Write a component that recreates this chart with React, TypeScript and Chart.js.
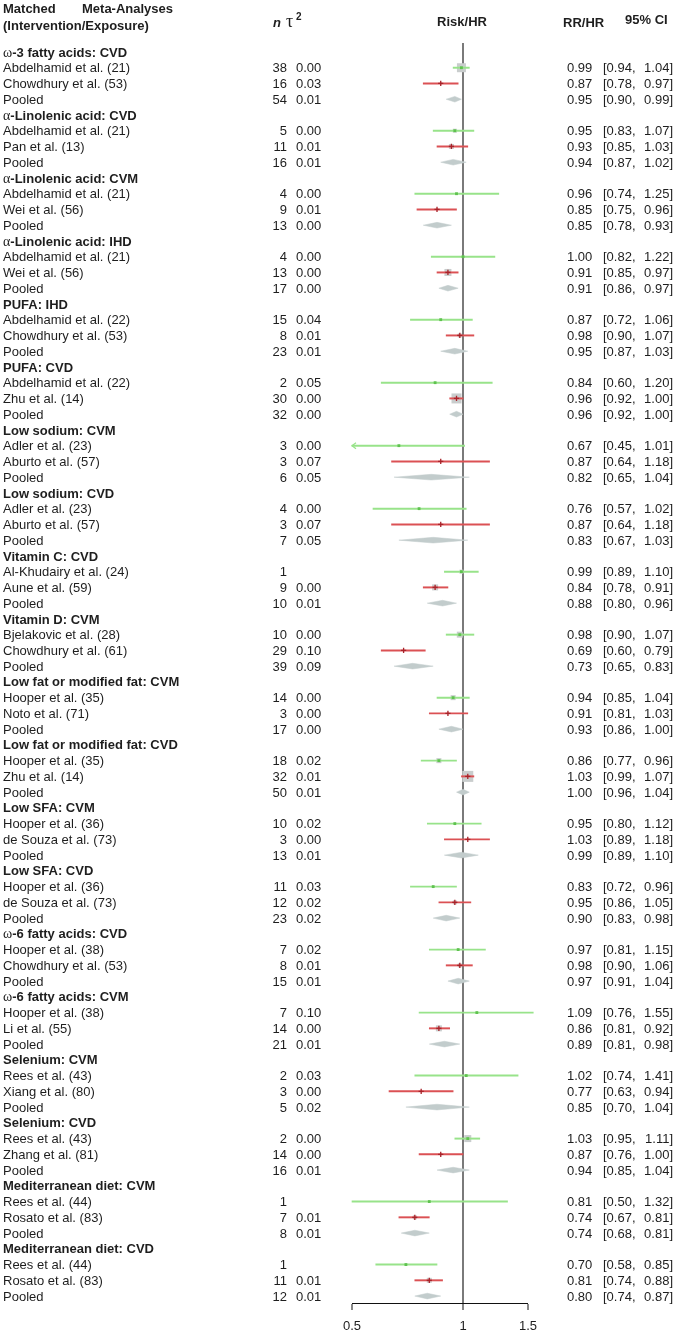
import React, { useEffect, useRef } from 'react';
import { Chart, registerables } from 'chart.js';

Chart.register(...registerables);

// ---------- data ----------
const groupTitles = [
  'ω-3 fatty acids: CVD', 'α-Linolenic acid: CVD', 'α-Linolenic acid: CVM', 'α-Linolenic acid: IHD',
  'PUFA: IHD', 'PUFA: CVD', 'Low sodium: CVM', 'Low sodium: CVD', 'Vitamin C: CVD', 'Vitamin D: CVM',
  'Low fat or modified fat: CVM', 'Low fat or modified fat: CVD', 'Low SFA: CVM', 'Low SFA: CVD',
  'ω-6 fatty acids: CVD', 'ω-6 fatty acids: CVM', 'Selenium: CVM', 'Selenium: CVD',
  'Mediterranean diet: CVM', 'Mediterranean diet: CVD',
];

const rowLabels = [
  'Abdelhamid et al. (21)', 'Chowdhury et al. (53)', 'Pooled',
  'Abdelhamid et al. (21)', 'Pan et al. (13)', 'Pooled',
  'Abdelhamid et al. (21)', 'Wei et al. (56)', 'Pooled',
  'Abdelhamid et al. (21)', 'Wei et al. (56)', 'Pooled',
  'Abdelhamid et al. (22)', 'Chowdhury et al. (53)', 'Pooled',
  'Abdelhamid et al. (22)', 'Zhu et al. (14)', 'Pooled',
  'Adler et al. (23)', 'Aburto et al. (57)', 'Pooled',
  'Adler et al. (23)', 'Aburto et al. (57)', 'Pooled',
  'Al-Khudairy et al. (24)', 'Aune et al. (59)', 'Pooled',
  'Bjelakovic et al. (28)', 'Chowdhury et al. (61)', 'Pooled',
  'Hooper et al. (35)', 'Noto et al. (71)', 'Pooled',
  'Hooper et al. (35)', 'Zhu et al. (14)', 'Pooled',
  'Hooper et al. (36)', 'de Souza et al. (73)', 'Pooled',
  'Hooper et al. (36)', 'de Souza et al. (73)', 'Pooled',
  'Hooper et al. (38)', 'Chowdhury et al. (53)', 'Pooled',
  'Hooper et al. (38)', 'Li et al. (55)', 'Pooled',
  'Rees et al. (43)', 'Xiang et al. (80)', 'Pooled',
  'Rees et al. (43)', 'Zhang et al. (81)', 'Pooled',
  'Rees et al. (44)', 'Rosato et al. (83)', 'Pooled',
  'Rees et al. (44)', 'Rosato et al. (83)', 'Pooled',
];

const nValues = [
  38, 16, 54, 5, 11, 16, 4, 9, 13, 4, 13, 17, 15, 8, 23, 2, 30, 32, 3, 3, 6, 4, 3, 7,
  1, 9, 10, 10, 29, 39, 14, 3, 17, 18, 32, 50, 10, 3, 13, 11, 12, 23, 7, 8, 15, 7, 14, 21,
  2, 3, 5, 2, 14, 16, 1, 7, 8, 1, 11, 12,
];

const tau2Values = [
  '0.00', '0.03', '0.01', '0.00', '0.01', '0.01', '0.00', '0.01', '0.00', '0.00', '0.00', '0.00',
  '0.04', '0.01', '0.01', '0.05', '0.00', '0.00', '0.00', '0.07', '0.05', '0.00', '0.07', '0.05',
  '', '0.00', '0.01', '0.00', '0.10', '0.09', '0.00', '0.00', '0.00', '0.02', '0.01', '0.01',
  '0.02', '0.00', '0.01', '0.03', '0.02', '0.02', '0.02', '0.01', '0.01', '0.10', '0.00', '0.01',
  '0.03', '0.00', '0.02', '0.00', '0.00', '0.01', '', '0.01', '0.01', '', '0.01', '0.01',
];

const rrValues = [
  0.99, 0.87, 0.95, 0.95, 0.93, 0.94, 0.96, 0.85, 0.85, 1.00, 0.91, 0.91, 0.87, 0.98, 0.95,
  0.84, 0.96, 0.96, 0.67, 0.87, 0.82, 0.76, 0.87, 0.83, 0.99, 0.84, 0.88, 0.98, 0.69, 0.73,
  0.94, 0.91, 0.93, 0.86, 1.03, 1.00, 0.95, 1.03, 0.99, 0.83, 0.95, 0.90, 0.97, 0.98, 0.97,
  1.09, 0.86, 0.89, 1.02, 0.77, 0.85, 1.03, 0.87, 0.94, 0.81, 0.74, 0.74, 0.70, 0.81, 0.80,
];

const lowerCI = [
  0.94, 0.78, 0.90, 0.83, 0.85, 0.87, 0.74, 0.75, 0.78, 0.82, 0.85, 0.86, 0.72, 0.90, 0.87,
  0.60, 0.92, 0.92, 0.45, 0.64, 0.65, 0.57, 0.64, 0.67, 0.89, 0.78, 0.80, 0.90, 0.60, 0.65,
  0.85, 0.81, 0.86, 0.77, 0.99, 0.96, 0.80, 0.89, 0.89, 0.72, 0.86, 0.83, 0.81, 0.90, 0.91,
  0.76, 0.81, 0.81, 0.74, 0.63, 0.70, 0.95, 0.76, 0.85, 0.50, 0.67, 0.68, 0.58, 0.74, 0.74,
];

const upperCI = [
  1.04, 0.97, 0.99, 1.07, 1.03, 1.02, 1.25, 0.96, 0.93, 1.22, 0.97, 0.97, 1.06, 1.07, 1.03,
  1.20, 1.00, 1.00, 1.01, 1.18, 1.04, 1.02, 1.18, 1.03, 1.10, 0.91, 0.96, 1.07, 0.79, 0.83,
  1.04, 1.03, 1.00, 0.96, 1.07, 1.04, 1.12, 1.18, 1.10, 0.96, 1.05, 0.98, 1.15, 1.06, 1.04,
  1.55, 0.92, 0.98, 1.41, 0.94, 1.04, 1.11, 1.00, 1.04, 1.32, 0.81, 0.81, 0.85, 0.88, 0.87,
];

// relative study weights (drawn as grey squares), two studies per group
const studyWeights = [
  9, 2, 4, 5, 1, 2, 1, 7, 2, 4, 1, 10, 1, 1, 1, 1, 4, 6, 6, 2,
  5, 2, 5, 11, 1, 1, 2, 4, 2, 4, 1, 6, 1, 1, 7, 2, 1, 4, 1, 5,
];

const xTicks = [0.5, 1, 1.5];

// ---------- styling ----------
const X_MIN = 0.5;
const X_MAX = 1.5;
const ROWS_PER_GROUP = 4;
const Y_MIN = -0.57;
const Y_MAX = groupTitles.length * ROWS_PER_GROUP - 0.56;
const GREEN = '#98e38a';
const GREEN_DOT = '#5fc24f';
const RED = '#db5154';
const RED_DOT = '#a8232a';
const SQUARE = '#c9cdcd';
const DIAMOND = '#c2cccc';
const TEXT = '#1e1e1e';
const SANS = '"Liberation Sans", Arial, sans-serif';
const SERIF = '"Liberation Serif", "Times New Roman", serif';
const DIAMOND_HALF = 0.18;

const rowOf = (i: number) => Math.floor(i / 3) * ROWS_PER_GROUP + 1 + (i % 3);

function drawGreekLabel(ctx: CanvasRenderingContext2D, text: string, x: number, y: number) {
  const first = text.charAt(0);
  let cx = x;
  let rest = text;
  if (first === 'ω' || first === 'α') {
    ctx.font = `14px ${SERIF}`;
    ctx.fillText(first, cx, y);
    cx += ctx.measureText(first).width;
    rest = text.slice(1);
  }
  ctx.font = `bold 13px ${SANS}`;
  ctx.fillText(rest, cx, y);
}

const forestText = {
  id: 'forestText',
  afterDraw(chart: any) {
    const ctx: CanvasRenderingContext2D = chart.ctx;
    const ys = chart.scales.y;
    ctx.save();
    ctx.fillStyle = TEXT;
    ctx.textBaseline = 'alphabetic';

    // column headers
    ctx.font = `bold 13px ${SANS}`;
    ctx.textAlign = 'left';
    ctx.fillText('Matched', 3, 13);
    ctx.fillText('Meta-Analyses', 82, 13);
    ctx.fillText('(Intervention/Exposure)', 3, 30);
    ctx.font = `italic bold 13px ${SANS}`;
    ctx.fillText('n', 273, 27);
    ctx.font = `18px ${SERIF}`;
    ctx.fillText('τ', 286, 27);
    ctx.font = `bold 10px ${SANS}`;
    ctx.fillText('2', 296, 20);
    ctx.font = `bold 13px ${SANS}`;
    ctx.textAlign = 'center';
    ctx.fillText('Risk/HR', 462, 26);
    ctx.textAlign = 'left';
    ctx.fillText('RR/HR', 563, 27);
    ctx.fillText('95% CI', 625, 24);

    // group titles
    groupTitles.forEach((t, g) => {
      const py = ys.getPixelForValue(g * ROWS_PER_GROUP) + 4.6;
      ctx.textAlign = 'left';
      drawGreekLabel(ctx, t, 3, py);
    });

    // rows
    ctx.font = `13px ${SANS}`;
    rowLabels.forEach((lab, i) => {
      const py = ys.getPixelForValue(rowOf(i)) + 4.6;
      ctx.textAlign = 'left';
      ctx.fillText(lab, 3, py);
      ctx.textAlign = 'right';
      ctx.fillText(String(nValues[i]), 287, py);
      ctx.textAlign = 'left';
      if (tau2Values[i]) ctx.fillText(tau2Values[i], 296, py);
      ctx.fillText(rrValues[i].toFixed(2), 567, py);
      ctx.fillText(`[${lowerCI[i].toFixed(2)},`, 603, py);
      ctx.textAlign = 'right';
      ctx.fillText(`${upperCI[i].toFixed(2)}]`, 673, py);
    });
    ctx.restore();
  },
};

const arrowPlugin = {
  id: 'ciArrows',
  afterDatasetsDraw(chart: any) {
    const ctx: CanvasRenderingContext2D = chart.ctx;
    const xs = chart.scales.x;
    const ys = chart.scales.y;
    ctx.save();
    ctx.lineWidth = 1.2;
    rowLabels.forEach((_, i) => {
      if (i % 3 === 2 || lowerCI[i] >= X_MIN) return;
      const px = xs.getPixelForValue(X_MIN);
      const py = ys.getPixelForValue(rowOf(i));
      ctx.strokeStyle = i % 3 === 0 ? GREEN : RED;
      ctx.beginPath();
      ctx.moveTo(px + 4, py - 3);
      ctx.lineTo(px, py);
      ctx.lineTo(px + 4, py + 3);
      ctx.stroke();
    });
    ctx.restore();
  },
};

export default function App() {
  const ref = useRef<HTMLCanvasElement>(null);

  useEffect(() => {
    document.body.style.margin = '0';
    const canvas = ref.current;
    if (!canvas) return;

    const studyIdx = rowLabels.map((_, i) => i).filter((i) => i % 3 !== 2);
    const pooledIdx = rowLabels.map((_, i) => i).filter((i) => i % 3 === 2);

    const barData = studyIdx.map((i) => ({
      x: [Math.max(lowerCI[i], X_MIN), upperCI[i]],
      y: rowOf(i),
      kind: i % 3,
    }));

    const squareData = studyIdx.map((i, j) => ({ x: rrValues[i], y: rowOf(i), w: studyWeights[j] }));
    const greenDots = studyIdx.filter((i) => i % 3 === 0).map((i) => ({ x: rrValues[i], y: rowOf(i) }));
    const redDots = studyIdx.filter((i) => i % 3 === 1).map((i) => ({ x: rrValues[i], y: rowOf(i) }));

    const diamondSets = pooledIdx.map((i) => {
      const r = rowOf(i);
      return {
        type: 'line' as const,
        data: [
          { x: lowerCI[i], y: r },
          { x: rrValues[i], y: r - DIAMOND_HALF },
          { x: upperCI[i], y: r },
          { x: rrValues[i], y: r + DIAMOND_HALF },
          { x: lowerCI[i], y: r },
        ],
        fill: 'shape',
        backgroundColor: DIAMOND,
        borderColor: DIAMOND,
        borderWidth: 0.5,
        pointRadius: 0,
        tension: 0,
        order: 4,
        clip: false,
      };
    });

    const chart = new Chart(canvas, {
      type: 'scatter',
      data: {
        datasets: [
          {
            type: 'bar',
            indexAxis: 'y',
            data: barData as any,
            backgroundColor: (c: any) => (c.raw && c.raw.kind === 0 ? GREEN : RED),
            barThickness: 1.3,
            grouped: false,
            borderWidth: 0,
            clip: false,
            order: 2,
          } as any,
          {
            type: 'scatter',
            data: squareData as any,
            pointStyle: 'rect',
            pointRadius: (c: any) => (c.raw ? c.raw.w / Math.SQRT2 : 0),
            backgroundColor: SQUARE,
            borderWidth: 0,
            order: 3,
            clip: false,
          } as any,
          {
            type: 'scatter',
            data: greenDots,
            pointStyle: 'rect',
            pointRadius: 2,
            backgroundColor: GREEN_DOT,
            borderWidth: 0,
            order: 0,
          } as any,
          {
            type: 'scatter',
            data: redDots,
            pointStyle: 'cross',
            pointRadius: 2.6,
            borderColor: RED_DOT,
            borderWidth: 1.3,
            order: 0,
          } as any,
          ...(diamondSets as any[]),
        ],
      },
      options: {
        animation: false,
        responsive: false,
        events: [],
        layout: { padding: { left: 352, right: 150, top: 43, bottom: 0 } },
        plugins: { legend: { display: false }, tooltip: { enabled: false } },
        scales: {
          x: {
            type: 'logarithmic',
            min: X_MIN,
            max: X_MAX,
            position: 'bottom',
            offset: false,
            afterBuildTicks: (s: any) => {
              s.ticks = xTicks.map((v) => ({ value: v }));
            },
            afterFit: (s: any) => {
              s.height = 30;
            },
            ticks: {
              autoSkip: false,
              maxRotation: 0,
              padding: 9,
              color: TEXT,
              font: { family: SANS, size: 13 },
              callback: (v: any) => String(v),
            },
            grid: {
              offset: false,
              drawOnChartArea: true,
              drawTicks: true,
              tickLength: 7,
              tickColor: '#111',
              tickWidth: 1,
              color: (c: any) => (c.tick && c.tick.value === 1 ? '#7a7a7a' : 'rgba(0,0,0,0)'),
              lineWidth: (c: any) => (c.tick && c.tick.value === 1 ? 2 : 0),
            },
            border: { display: true, color: '#111', width: 1 },
          },
          y: {
            type: 'linear',
            reverse: true,
            min: Y_MIN,
            max: Y_MAX,
            offset: false,
            bounds: 'data',
            grid: { offset: false },
            display: false,
          },
        },
      } as any,
      plugins: [arrowPlugin, forestText],
    });

    return () => chart.destroy();
  }, []);

  return (
    <div style={{ width: 678, height: 1333, background: '#fff' }}>
      <canvas ref={ref} width={678} height={1333} style={{ display: 'block' }} />
    </div>
  );
}
